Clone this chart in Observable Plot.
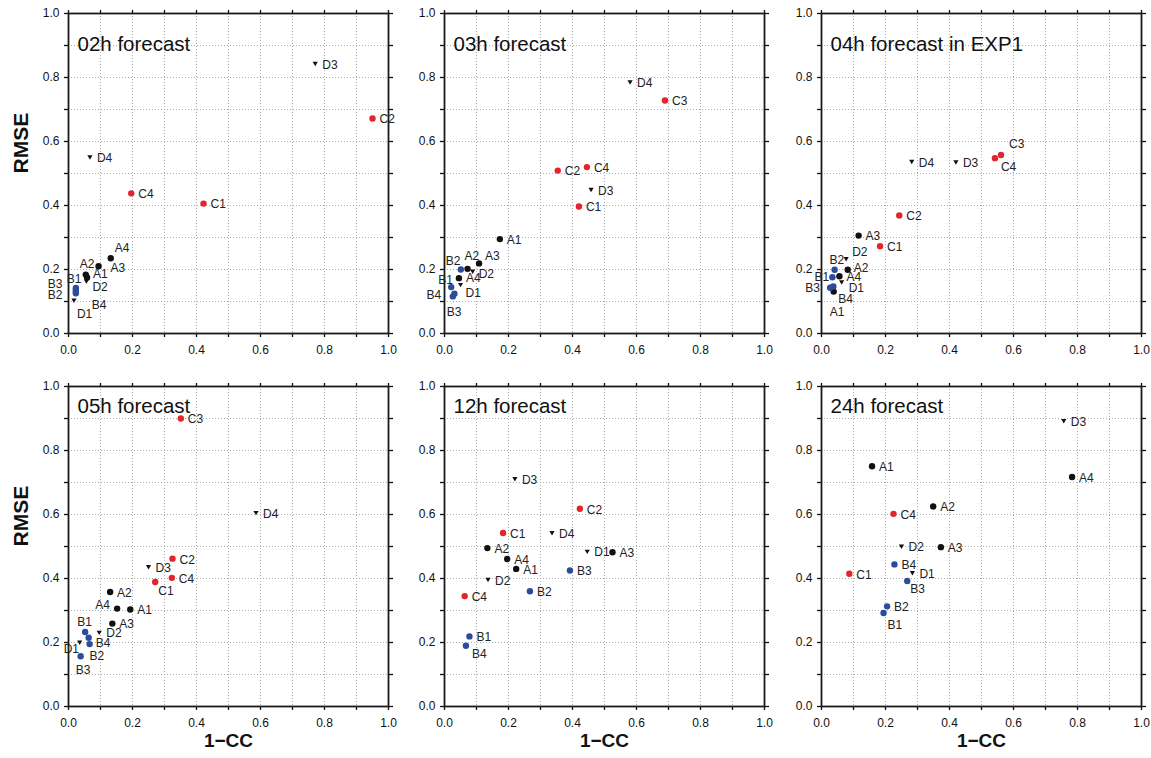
<!DOCTYPE html>
<html><head><meta charset="utf-8">
<script src="https://cdn.jsdelivr.net/npm/d3@7"></script>
<script src="https://cdn.jsdelivr.net/npm/@observablehq/plot@0.6"></script>
<style>
body{margin:0;background:#fff;}
#fig{position:relative;width:1151px;height:758px;overflow:hidden;background:#fff;}
#fig svg{position:absolute;}
</style>
</head><body><div id="fig"></div>
<script>
// ---- data ----
const pointNames = ["A1","A2","A3","A4","B1","B2","B3","B4","C1","C2","C3","C4","D1","D2","D3","D4"];
const panelTitles = ["02h forecast","03h forecast","04h forecast in EXP1","05h forecast","12h forecast","24h forecast"];
const tickLabels = [0, 0.2, 0.4, 0.6, 0.8, 1.0];
const minorTicks = [0, 0.1, 0.2, 0.3, 0.4, 0.5, 0.6, 0.7, 0.8, 0.9, 1.0];

// 1-CC (x) and RMSE (y), in pointNames order; null = not shown
const cc02 =   [0.058,0.054,0.094,0.132, 0.023,0.023,0.023,0.023, 0.422,0.950,null,0.196, 0.017,0.056,0.771,0.067];
const rmse02 = [0.175,0.184,0.210,0.235, 0.142,0.131,0.137,0.126, 0.406,0.672,null,0.438, 0.103,0.163,0.843,0.551];
const cc03 =   [0.173,0.072,0.108,0.045, 0.021,0.051,0.026,0.031, 0.420,0.354,0.689,0.445, 0.050,0.088,0.458,0.580];
const rmse03 = [0.295,0.202,0.219,0.173, 0.145,0.200,0.116,0.124, 0.397,0.509,0.728,0.520, 0.152,0.194,0.449,0.785];
const cc04 =   [0.038,0.082,0.116,0.056, 0.034,0.041,0.027,0.037, 0.183,0.243,0.561,0.542, 0.063,0.077,0.420,0.282];
const rmse04 = [0.131,0.199,0.306,0.179, 0.176,0.199,0.143,0.147, 0.273,0.369,0.558,0.548, 0.160,0.233,0.535,0.537];
const cc05 =   [0.193,0.130,0.137,0.152, 0.052,0.066,0.038,0.063, 0.271,0.325,0.351,0.323, 0.035,0.096,0.250,0.586];
const rmse05 = [0.303,0.358,0.259,0.306, 0.233,0.195,0.157,0.215, 0.389,0.462,0.900,0.402, 0.200,0.231,0.436,0.605];
const cc12 =   [0.224,0.134,0.525,0.196, 0.078,0.267,0.392,0.067, 0.183,0.423,null,0.063, 0.446,0.136,0.220,0.336];
const rmse12 = [0.430,0.495,0.482,0.461, 0.219,0.360,0.425,0.190, 0.542,0.618,null,0.345, 0.484,0.396,0.711,0.542];
const cc24 =   [0.158,0.349,0.373,0.783, 0.194,0.205,0.268,0.228, 0.087,null,null,0.225, 0.284,0.250,0.757,null];
const rmse24 = [0.751,0.625,0.498,0.717, 0.292,0.313,0.392,0.444, 0.415,null,null,0.602, 0.417,0.500,0.892,null];

const panelX = [cc02, cc03, cc04, cc05, cc12, cc24];
const panelY = [rmse02, rmse03, rmse04, rmse05, rmse12, rmse24];

// label nudges (pixels, text start relative to point); default [7,1]
const labelNudge = [
  {A2:[-6,-10], A3:[12,2], A4:[4,-10], A1:[6,-3], B1:[-9,-9], B3:[-28,-6], B2:[-28,4], D2:[6,6], B4:[16,12], D1:[3,14]},
  {A3:[6,-7], A2:[-3,-13], B2:[-15,-8], D2:[6,3], A4:[7,0], B1:[-13,-7], D1:[5,8], B4:[-28,1], B3:[-6,16]},
  {C4:[6,9], C3:[8,-11], D2:[6,-7], B2:[-5,-10], A2:[6,-2], B1:[-18,0], D1:[7,6], B3:[-25,0], B4:[5,13], A1:[-4,21]},
  {C1:[3,9], A4:[-22,-3], B1:[-8,-10], B4:[7,5], B2:[0,12], D1:[-16,7], B3:[-5,14]},
  {B4:[6,8]},
  {B3:[3,8], B1:[4,12]}
];

// ---- styling ----
const groupColor = {A:"#111111", B:"#2d4b9c", C:"#e4232b", D:"#111111"};
const FONT = "'Liberation Sans', Arial, Helvetica, sans-serif";
const triDown = {
  draw(ctx, size) {
    const r = Math.sqrt(size / Math.PI);
    ctx.moveTo(-r, -0.75 * r);
    ctx.lineTo(r, -0.75 * r);
    ctx.lineTo(0, 0.95 * r);
    ctx.closePath();
  }
};

const plotLeft = [67.7, 444.3, 820.7];
const plotTop = [12.7, 386.3];
const titleDy = [23.3, 12];
const SIZE = 320;
const fig = document.getElementById("fig");

function panel(i) {
  const col = i % 3, row = Math.floor(i / 3);
  const mL = col === 0 ? 67 : 48;
  const mR = col === 2 ? 10 : 8;
  const mT = 12;
  const mB = row === 0 ? 40 : 52;
  const pts = pointNames.map((n, k) => ({name: n, group: n[0], x: panelX[i][k], y: panelY[i][k]}))
    .filter(d => d.x != null && d.y != null);
  const circles = pts.filter(d => d.group !== "D");
  const tris = pts.filter(d => d.group === "D");
  const nudge = labelNudge[i];
  const labelMarks = pts.map(d => {
    const [dx, dy] = nudge[d.name] || [7, 1];
    return Plot.text([d], {x: "x", y: "y", text: "name", dx, dy, textAnchor: "start",
      fontSize: 12, fill: "#222"});
  });
  const noText = () => "";
  const marks = [
    Plot.gridX(minorTicks, {stroke: "#9a9a9a", strokeOpacity: 1, strokeWidth: 0.8, strokeDasharray: "1,2"}),
    Plot.gridY(minorTicks, {stroke: "#9a9a9a", strokeOpacity: 1, strokeWidth: 0.8, strokeDasharray: "1,2"}),
    Plot.axisX(minorTicks, {anchor: "bottom", tickSize: 4, tickFormat: noText, label: null, strokeWidth: 1.3}),
    Plot.axisX(minorTicks, {anchor: "top", tickSize: 4, tickFormat: noText, label: null, strokeWidth: 1.3}),
    Plot.axisY(minorTicks, {anchor: "left", tickSize: 4, tickFormat: noText, label: null, strokeWidth: 1.3}),
    Plot.axisY(minorTicks, {anchor: "right", tickSize: 4, tickFormat: noText, label: null, strokeWidth: 1.3}),
    Plot.axisX(tickLabels, {anchor: "bottom", tickSize: 0, tickPadding: 12, tickFormat: d3.format(".1f"), label: null, fontSize: 12, fill: "#111"}),
    Plot.axisY(tickLabels, {anchor: "left", tickSize: 0, tickPadding: 9, tickFormat: d3.format(".1f"), label: null, fontSize: 12, fill: "#111"}),
    Plot.frame({stroke: "#1a1a1a", strokeWidth: 1.8}),
    Plot.dot(circles, {x: "x", y: "y", r: 3.2, fill: d => groupColor[d.group], stroke: "none"}),
    Plot.dot(tris, {x: "x", y: "y", r: 2.6, symbol: triDown, fill: groupColor.D, stroke: "none"}),
    ...labelMarks,
    Plot.text([panelTitles[i]], {frameAnchor: "top-left", dx: 9, dy: titleDy[row], textAnchor: "start", fontSize: 20.5, fill: "#111"})
  ];
  if (col === 0) marks.push(Plot.text(["RMSE"], {frameAnchor: "left", dx: -47.7, rotate: -90, fontSize: 21, fontWeight: "bold", fill: "#111"}));
  if (row === 1) marks.push(Plot.text(["1\u2212CC"], {frameAnchor: "bottom", dy: 40, fontSize: 19, fontWeight: "bold", fill: "#111"}));
  const svg = Plot.plot({
    width: mL + SIZE + mR,
    height: mT + SIZE + mB,
    marginLeft: mL, marginRight: mR, marginTop: mT, marginBottom: mB,
    x: {domain: [0, 1], label: null, axis: null},
    y: {domain: [0, 1], label: null, axis: null},
    style: {background: "transparent", overflow: "visible", fontFamily: FONT, fontSize: "12px", color: "#111"},
    marks
  });
  svg.style.left = (plotLeft[col] - mL) + "px";
  svg.style.top = (plotTop[row] - mT) + "px";
  fig.appendChild(svg);
}
for (let i = 0; i < 6; i++) panel(i);
</script>
</body></html>
